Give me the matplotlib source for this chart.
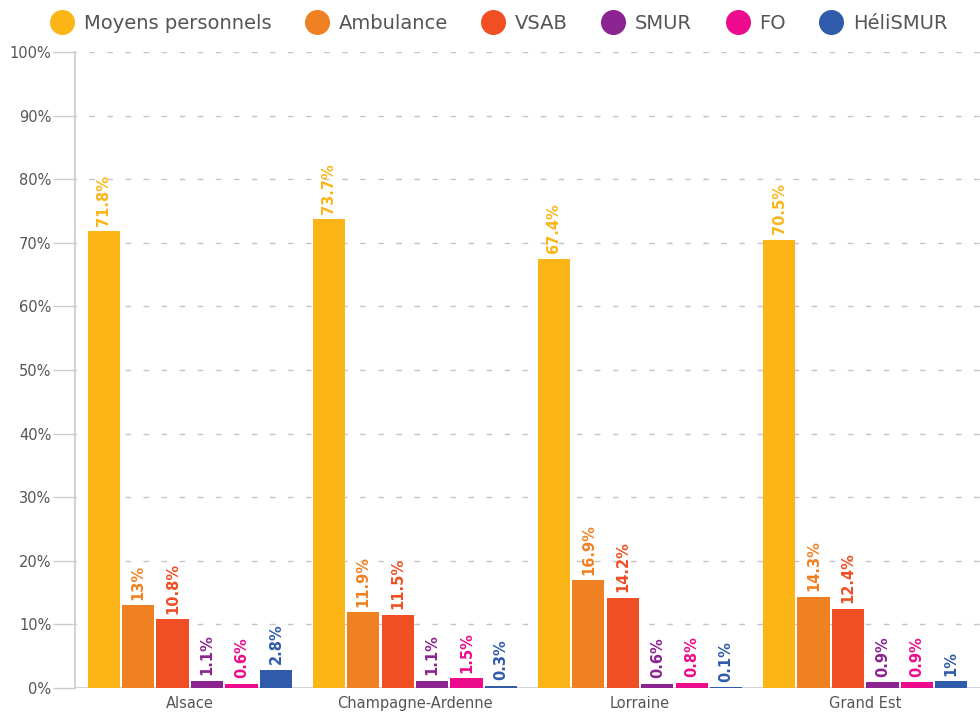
import numpy as np
import matplotlib.pyplot as plt
from matplotlib.lines import Line2D

regions = ["Alsace", "Champagne-Ardenne", "Lorraine", "Grand Est"]
series = ["Moyens personnels", "Ambulance", "VSAB", "SMUR", "FO", "HéliSMUR"]

moyens = [71.8, 73.7, 67.4, 70.5]
ambulance = [13, 11.9, 16.9, 14.3]
vsab = [10.8, 11.5, 14.2, 12.4]
smur = [1.1, 1.1, 0.6, 0.9]
fo = [0.6, 1.5, 0.8, 0.9]
helismur = [2.8, 0.3, 0.1, 1]

colors = ["#FBB516", "#F08122", "#F04E23", "#8B2391", "#EC0B8C", "#2F5BAA"]
values = [moyens, ambulance, vsab, smur, fo, helismur]

fig = plt.figure(figsize=(9.8, 7.15), dpi=100)
ax = fig.add_axes([0.0765, 0.038, 0.9235, 0.889])

x = np.arange(len(regions))
slot = 0.153
width = 0.143
for i, (vals, col) in enumerate(zip(values, colors)):
    pos = x + (i - 2.5) * slot
    ax.bar(pos, vals, width, color=col, zorder=3)
    for px, v in zip(pos, vals):
        ax.annotate(f"{v:g}%", (px, v), xytext=(0, 4), textcoords="offset points",
                    rotation=90, ha="center", va="bottom", color=col,
                    fontsize=10.5, fontweight="bold",
                    family=["Liberation Sans Narrow", "DejaVu Sans"])

ax.set_xlim(-0.51, 3.51)
ax.set_ylim(0, 100)
ax.set_yticks(np.arange(0, 101, 10))
ax.set_yticklabels([f"{t}%" for t in range(0, 101, 10)])
ax.set_xticks(x)
ax.set_xticklabels(regions)

ax.yaxis.grid(True, linestyle=(3, (4, 9)), color="#c4c4c4", linewidth=1, zorder=0)
ax.axhline(0, color="#cccccc", linewidth=1.2, zorder=2)
for side in ["top", "right", "bottom"]:
    ax.spines[side].set_visible(False)
ax.spines["left"].set_color("#cccccc")
ax.spines["left"].set_linewidth(1.2)
ax.tick_params(axis="y", length=16, width=1, color="#cccccc", labelsize=10.5,
               labelcolor="#555555", pad=1)
ax.tick_params(axis="x", length=0, labelsize=10.5, labelcolor="#555555", pad=6)

handles = [Line2D([], [], marker="o", linestyle="", markersize=17,
                  markerfacecolor=c, markeredgecolor=c) for c in colors]
fig.legend(handles, series, loc="upper left", bbox_to_anchor=(0.03, 1.005), ncol=6,
           frameon=False, fontsize=14, labelcolor="#555555", handletextpad=0.3,
           columnspacing=1.55, handlelength=1.6)

fig.savefig("out.png", dpi=100)
